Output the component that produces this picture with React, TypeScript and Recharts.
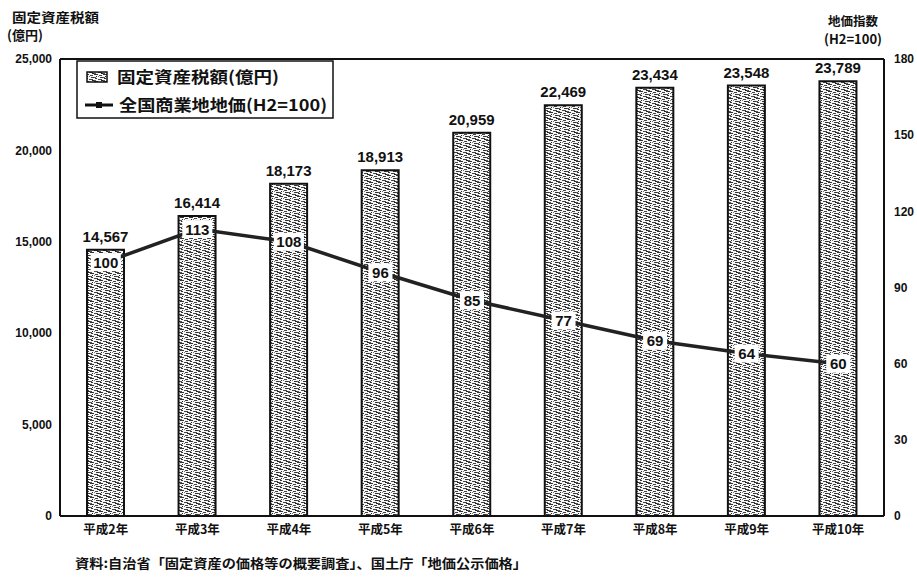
import { ComposedChart, Bar, Line, XAxis, YAxis, LabelList, ReferenceLine } from 'recharts';

// 年度
const years = ['平成2年', '平成3年', '平成4年', '平成5年', '平成6年', '平成7年', '平成8年', '平成9年', '平成10年'];
// 固定資産税額（億円）
const taxAmounts = [14567, 16414, 18173, 18913, 20959, 22469, 23434, 23548, 23789];
// 全国商業地地価指数（H2=100）
const landIndex = [100, 113, 108, 96, 85, 77, 69, 64, 60];

const leftTicks = [0, 5000, 10000, 15000, 20000, 25000];
const rightTicks = [0, 30, 60, 90, 120, 150, 180];

const data = years.map((name, i) => ({ name, tax: taxAmounts[i], index: landIndex[i] }));

const JP = '"Noto Sans CJK JP", sans-serif';
const NUM = '"Liberation Sans", Arial, sans-serif';
const INK = '#111';

const fmt = (v: number) => v.toLocaleString('en-US');

// stippled fill used for the bars and the legend swatch
const Stipple = ({ id }: { id: string }) => (
  <pattern id={id} width="9" height="7" patternUnits="userSpaceOnUse">
    <rect width="9" height="7" fill="#f6f6f6" />
    <rect x="0" y="0" width="4" height="1" fill="#333" />
    <rect x="5" y="1" width="3" height="1" fill="#444" />
    <rect x="2" y="2" width="1" height="1" fill="#222" />
    <rect x="6" y="3" width="3" height="1" fill="#333" />
    <rect x="0" y="3" width="2" height="1" fill="#555" />
    <rect x="1" y="4" width="2" height="1" fill="#333" />
    <rect x="4" y="5" width="4" height="1" fill="#444" />
    <rect x="7" y="6" width="2" height="1" fill="#222" />
    <rect x="0" y="6" width="2" height="1" fill="#555" />
    <rect x="4" y="2" width="1" height="1" fill="#777" />
  </pattern>
);

const PointTag = (props: any) => {
  const { x, y, value } = props;
  const w = String(value).length > 2 ? 30 : 24;
  return (
    <g>
      <rect x={x - w / 2} y={y - 9} width={w} height={18} fill="#fff" />
      <text x={x} y={y + 5.5} textAnchor="middle" fontFamily={NUM} fontWeight={700} fontSize={15} fill={INK}>
        {value}
      </text>
    </g>
  );
};

const LegendBox = () => (
  <svg width={258} height={60} style={{ display: 'block' }}>
    <defs>
      <Stipple id="stipple-legend" />
    </defs>
    <rect x={1} y={1} width={256} height={57} fill="#fff" stroke={INK} strokeWidth={1.5} />
    <rect x={11} y={12} width={20} height={10} fill="url(#stipple-legend)" stroke={INK} strokeWidth={1.5} />
    <text x={41} y={23} fontFamily={JP} fontWeight={700} fontSize={16} fill={INK} textLength={162} lengthAdjust="spacingAndGlyphs">
      固定資産税額(億円)
    </text>
    <line x1={9} y1={45} x2={37} y2={45} stroke={INK} strokeWidth={3} />
    <rect x={20} y={42} width={6} height={6} fill={INK} />
    <text x={43} y={51} fontFamily={JP} fontWeight={700} fontSize={16} fill={INK} textLength={208} lengthAdjust="spacingAndGlyphs">
      全国商業地地価(H2=100)
    </text>
  </svg>
);

export default function App() {
  return (
    <div style={{ position: 'absolute', left: 0, top: 0, width: 917, height: 582, background: '#fff' }}>
      <ComposedChart width={917} height={582} data={data} margin={{ top: 59, right: 0, bottom: 36, left: 0 }}>
        <defs>
          <Stipple id="stipple-bar" />
        </defs>
        <XAxis
          dataKey="name"
          axisLine={{ stroke: INK, strokeWidth: 2 }}
          tickLine={false}
          tickSize={0}
          tickMargin={9}
          height={30}
          tick={{ fontFamily: JP, fontWeight: 700, fontSize: 12.5, fill: INK }}
        />
        <YAxis
          yAxisId="left"
          width={60}
          domain={[0, 25000]}
          ticks={leftTicks}
          tickFormatter={fmt}
          axisLine={{ stroke: INK, strokeWidth: 2 }}
          tickLine={false}
          tickSize={0}
          tickMargin={8}
          tick={{ fontFamily: NUM, fontWeight: 700, fontSize: 12, fill: INK }}
        />
        <YAxis
          yAxisId="right"
          orientation="right"
          width={33}
          domain={[0, 180]}
          ticks={rightTicks}
          axisLine={{ stroke: INK, strokeWidth: 2 }}
          tickLine={false}
          tickSize={0}
          tickMargin={10}
          tick={{ fontFamily: NUM, fontWeight: 700, fontSize: 12, fill: INK, textAnchor: 'start' }}
        />
        <ReferenceLine yAxisId="left" y={25000} stroke={INK} strokeWidth={2} />
        <Bar yAxisId="left" dataKey="tax" barSize={37} fill="url(#stipple-bar)" stroke={INK} strokeWidth={2} isAnimationActive={false}>
          <LabelList
            dataKey="tax"
            position="top"
            offset={8}
            formatter={(v: any) => fmt(Number(v))}
            style={{ fontFamily: NUM, fontWeight: 700, fontSize: 15, fill: INK }}
          />
        </Bar>
        <Line yAxisId="right" dataKey="index" stroke="#222" strokeWidth={3.5} dot={false} isAnimationActive={false}>
          <LabelList dataKey="index" content={<PointTag />} />
        </Line>
      </ComposedChart>

      <div style={{ position: 'absolute', left: 76, top: 60 }}>
        <LegendBox />
      </div>

      <svg width={917} height={582} style={{ position: 'absolute', left: 0, top: 0, pointerEvents: 'none' }}>
        <g fontFamily={JP} fontWeight={700} fill={INK}>
          <text x={12} y={22} fontSize={13} textLength={87} lengthAdjust="spacingAndGlyphs">固定資産税額</text>
          <text x={7} y={40} fontSize={13}>(億円)</text>
          <text x={828} y={26} fontSize={12.5}>地価指数</text>
          <text x={824} y={44} fontSize={13}>(H2=100)</text>
          <text x={75} y={568} fontSize={13} textLength={452} lengthAdjust="spacingAndGlyphs">
            資料:自治省「固定資産の価格等の概要調査」、国土庁「地価公示価格」
          </text>
        </g>
      </svg>
    </div>
  );
}
